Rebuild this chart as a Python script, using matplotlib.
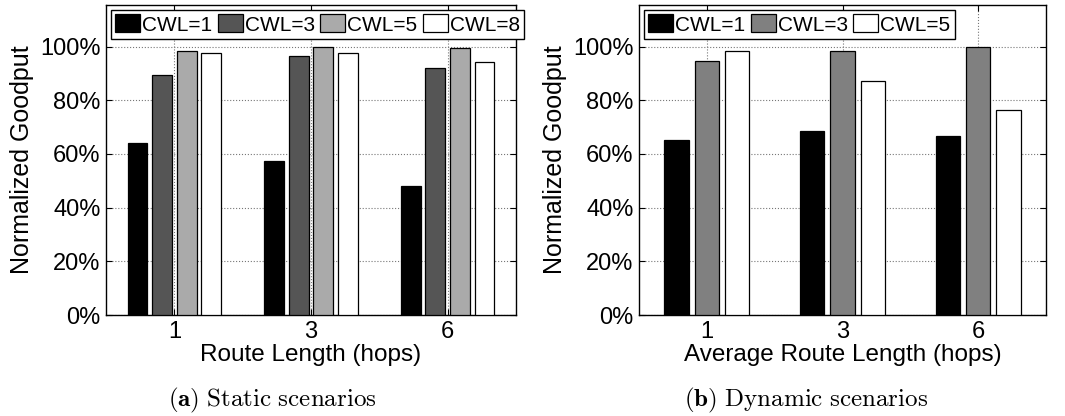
import matplotlib.pyplot as plt
import numpy as np

plt.rcParams['font.family'] = ['Liberation Sans', 'DejaVu Sans']
plt.rcParams['mathtext.fontset'] = 'cm'

# data
hops = ['1', '3', '6']

static_labels = ['CWL=1', 'CWL=3', 'CWL=5', 'CWL=8']
static_vals = [
    [64.0, 57.2, 48.1],   # CWL=1
    [89.3, 96.4, 91.9],   # CWL=3
    [98.3, 99.8, 99.3],   # CWL=5
    [97.8, 97.5, 94.3],   # CWL=8
]
static_colors = ['#000000', '#555555', '#aaaaaa', '#ffffff']

dyn_labels = ['CWL=1', 'CWL=3', 'CWL=5']
dyn_vals = [
    [65.1, 68.4, 66.6],   # CWL=1
    [94.5, 98.5, 100.0],  # CWL=3
    [98.4, 87.2, 76.2],   # CWL=5
]
dyn_colors = ['#000000', '#808080', '#ffffff']

W, H = 1065, 416
fig = plt.figure(figsize=(W / 100, H / 100), dpi=100)
ax1 = fig.add_axes([106 / W, 101 / H, 410 / W, 310 / H])
ax2 = fig.add_axes([639 / W, 101 / H, 407 / W, 310 / H])


def draw(ax, vals, labels, colors, width, step, xlabel):
    x = np.arange(1, len(hops) + 1)
    n = len(vals)
    for i in range(n):
        off = (i - (n - 1) / 2) * step
        ax.bar(x + off, vals[i], width, color=colors[i], edgecolor='black',
               linewidth=0.9, label=labels[i], zorder=3)
    ax.set_xlim(0.5, 3.5)
    ax.set_ylim(0, 115.5)
    ax.set_xticks(x)
    ax.set_xticklabels(hops)
    ax.set_yticks([0, 20, 40, 60, 80, 100])
    ax.set_yticklabels(['0%', '20%', '40%', '60%', '80%', '100%'])
    ax.tick_params(direction='in', top=True, right=True, labelsize=17,
                   length=4, width=0.8, pad=4)
    ax.grid(True, linestyle=':', color='#777777', linewidth=0.8, zorder=0)
    ax.set_axisbelow(True)
    for s in ax.spines.values():
        s.set_linewidth(1.0)
    ax.set_xlabel(xlabel, fontsize=17.5, labelpad=1)
    ax.set_ylabel('Normalized Goodput', fontsize=18)
    leg = ax.legend(loc='upper left', ncol=n, fontsize=15,
                    bbox_to_anchor=(0.0, 1.0), borderaxespad=0.25,
                    handlelength=1.2, handleheight=0.95, handletextpad=0.1,
                    columnspacing=0.25, borderpad=0.2, fancybox=False,
                    framealpha=1, edgecolor='black')
    leg.get_frame().set_linewidth(1.0)


draw(ax1, static_vals, static_labels, static_colors, 0.145, 0.18,
     'Route Length (hops)')
draw(ax2, dyn_vals, dyn_labels, dyn_colors, 0.18, 0.224,
     'Average Route Length (hops)')

fig.text(272 / W, 16 / H, r'$\mathbf{(a)}\ \mathrm{Static\ scenarios}$',
         ha='center', va='center', fontsize=18)
fig.text(806 / W, 16 / H, r'$\mathbf{(b)}\ \mathrm{Dynamic\ scenarios}$',
         ha='center', va='center', fontsize=18)

fig.savefig('out.png', dpi=100)
